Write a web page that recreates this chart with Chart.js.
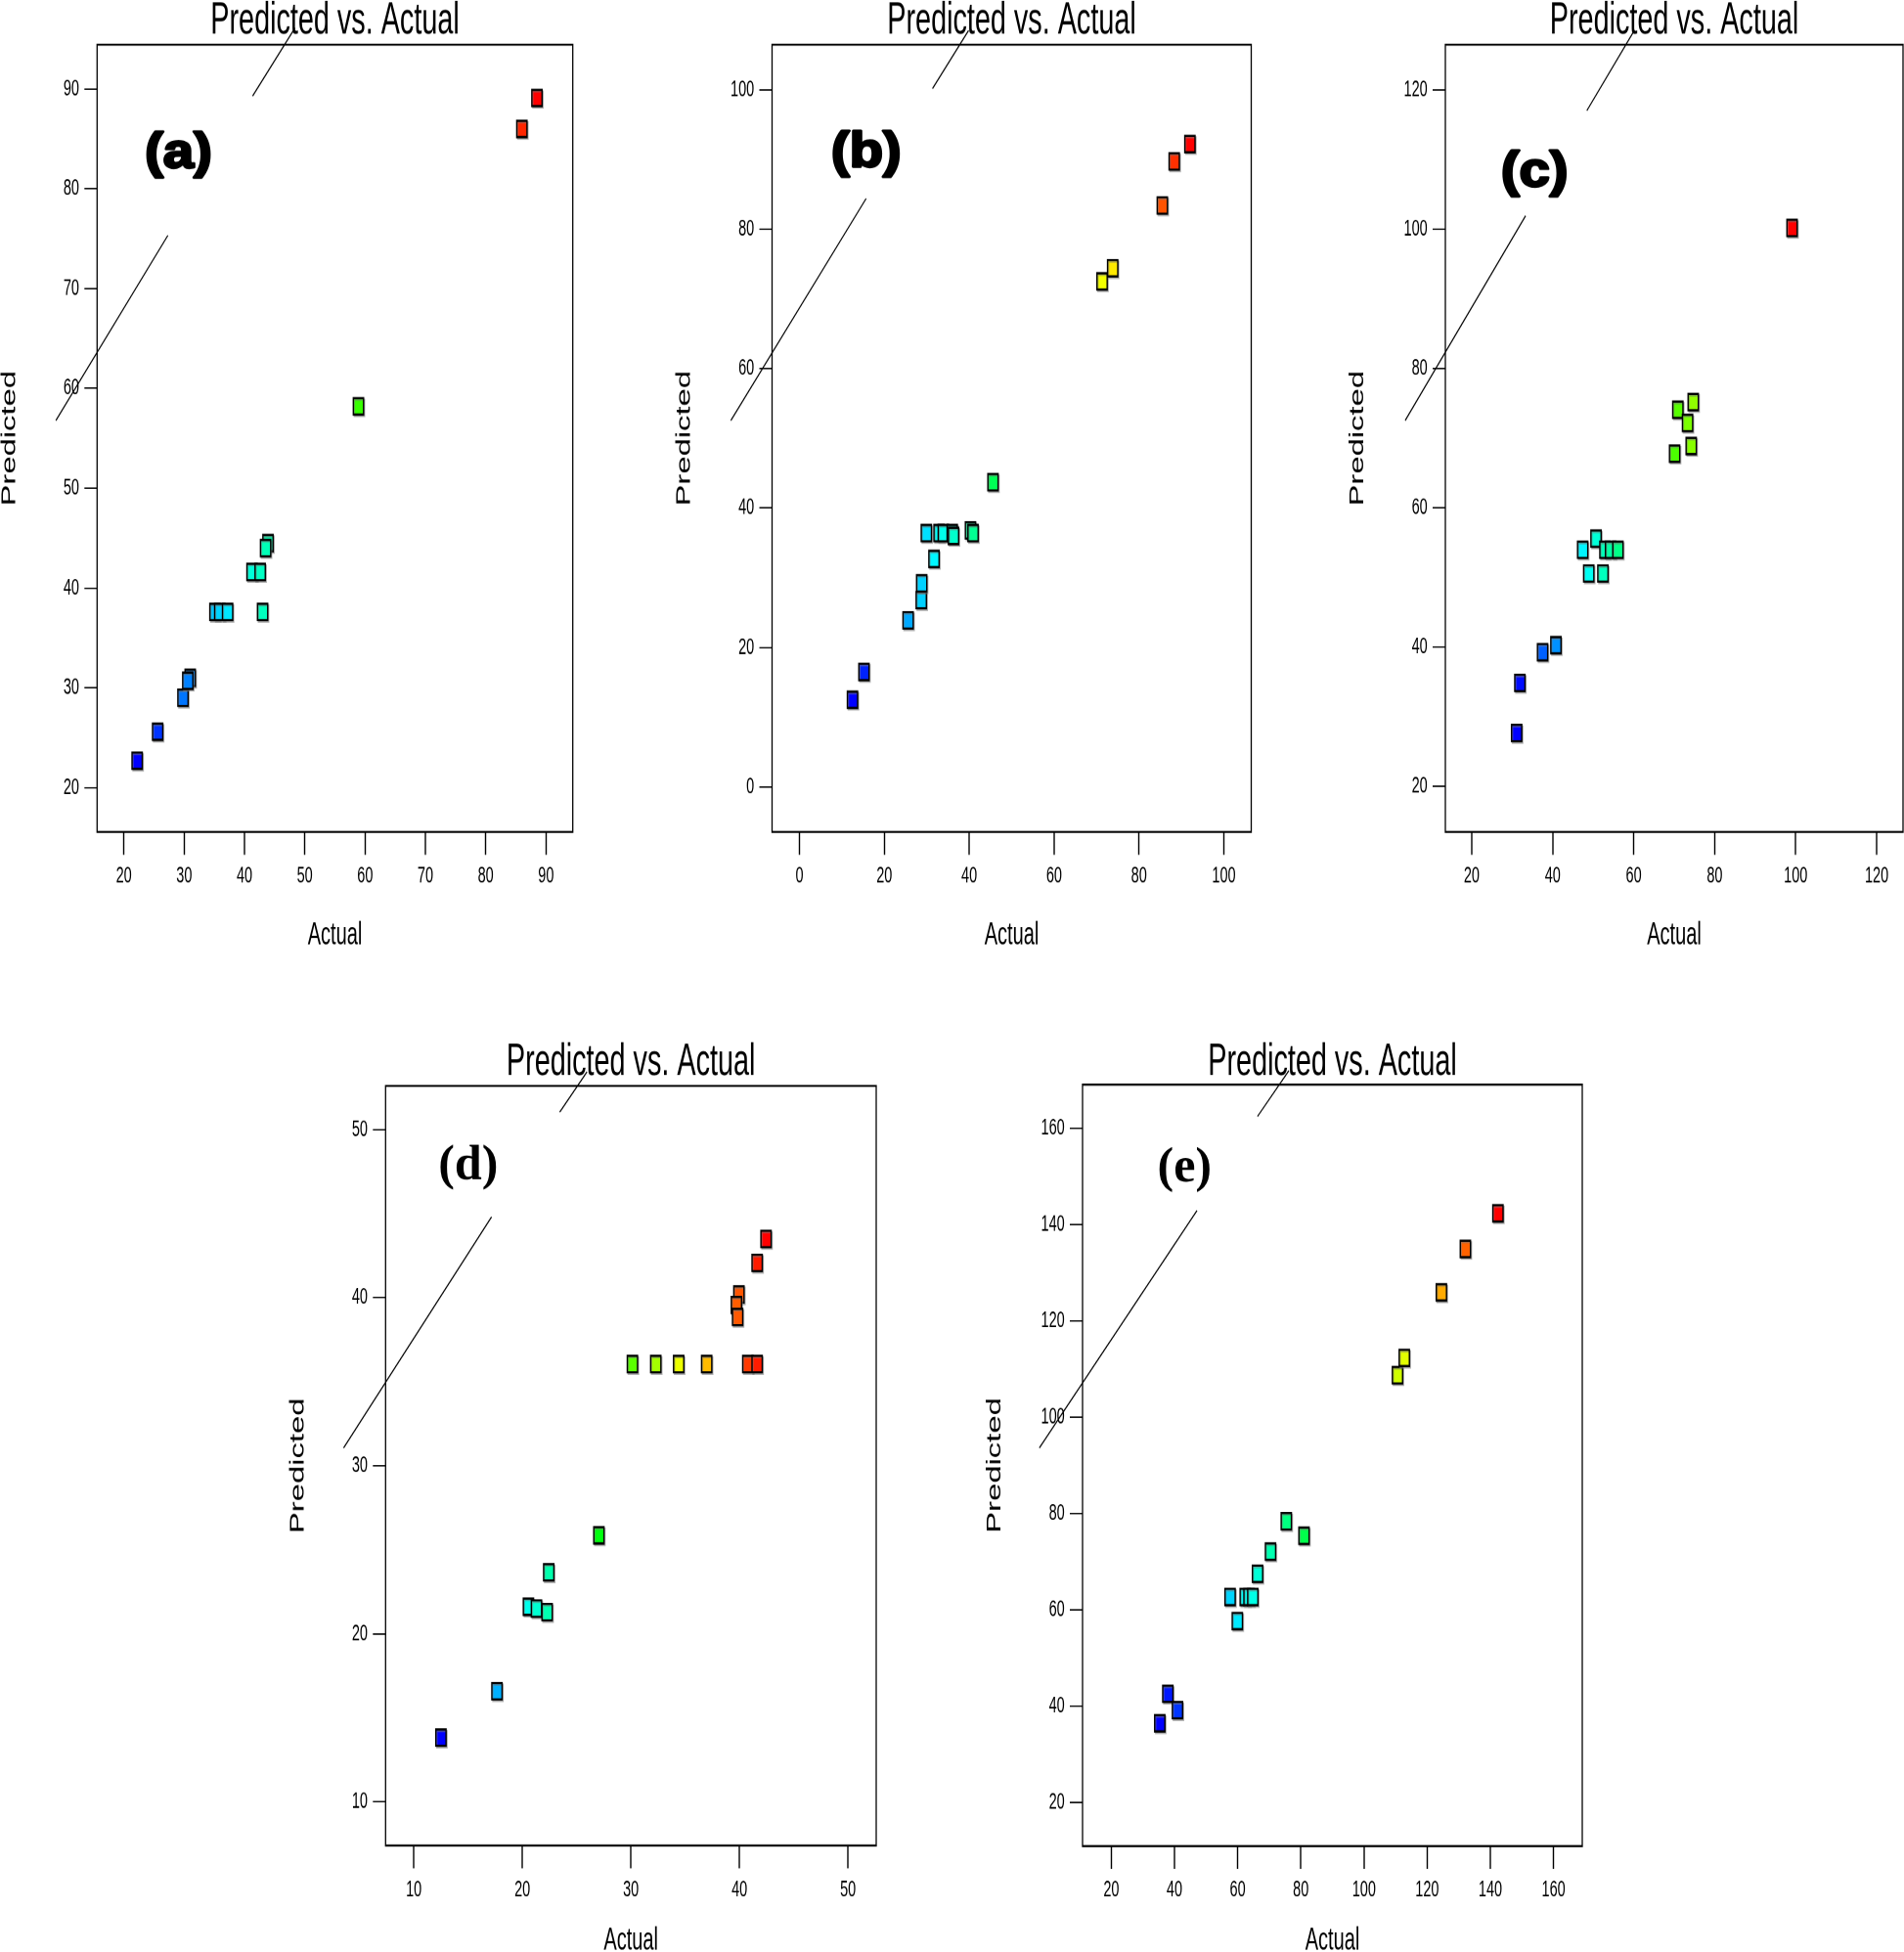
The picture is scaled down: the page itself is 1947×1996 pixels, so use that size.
<!DOCTYPE html>
<html><head><meta charset="utf-8">
<script src="https://cdn.jsdelivr.net/npm/chart.js@4.4.1/dist/chart.umd.min.js"></script>
<style>
html,body{margin:0;padding:0;background:#fff;}
body{width:1947px;height:1996px;position:relative;overflow:hidden;}
.panel{position:absolute;transform-origin:0 0;}
.panel canvas{display:block;}
</style></head><body>
<script>
// ---------------- data ----------------
const titleText = "Predicted vs. Actual";
const xTitleText = "Actual";
const yTitleText = "Predicted";

// (a)
const ticksA = [20, 30, 40, 50, 60, 70, 80, 90];
const actualA = [22.2, 25.6, 29.8, 31.0, 30.6, 35.1, 35.9, 37.2, 41.25, 42.6, 43.0, 43.9, 43.5, 58.9, 86.0, 88.5];
const predA   = [22.7, 25.6, 29.0, 31.0, 30.7, 37.6, 37.6, 37.6, 41.6, 41.6, 37.6, 44.5, 44.0, 58.2, 86.0, 89.1];
const lineA1x = [8.72, 27.30], lineA1y = [56.78, 75.33];
const lineA2x = [41.35, 48.39], lineA2y = [89.29, 96.14];

// (b)
const ticksB = [0, 20, 40, 60, 80, 100];
const actualB = [12.5, 15.2, 25.6, 28.7, 28.8, 31.7, 29.9, 32.9, 33.9, 36.0, 36.3, 40.3, 40.9, 45.6, 71.3, 73.8, 85.5, 88.3, 92.0];
const predB   = [12.5, 16.5, 23.9, 26.8, 29.2, 32.7, 36.4, 36.4, 36.4, 36.4, 36.0, 36.8, 36.4, 43.7, 72.5, 74.4, 83.4, 89.7, 92.2];
const lineB1x = [-16.16, 15.70], lineB1y = [52.55, 84.37];
const lineB2x = [31.35, 39.85], lineB2y = [100.15, 108.48];

// (c)
const ticksC = [20, 40, 60, 80, 100, 120];
const actualC = [31.1, 31.9, 37.5, 40.8, 47.4, 48.9, 50.7, 52.4, 52.9, 54.3, 56.1, 70.1, 70.9, 73.3, 74.2, 74.7, 99.1];
const predC   = [27.7, 34.9, 39.3, 40.3, 54.0, 50.6, 55.6, 50.6, 54.0, 54.0, 54.0, 67.8, 74.1, 72.2, 68.9, 75.2, 100.2];
const lineC1x = [3.58, 33.32], lineC1y = [72.56, 101.95];
const lineC2x = [48.44, 60.15], lineC2y = [117.04, 128.53];

// (d)
const ticksD = [10, 20, 30, 40, 50];
const actualD = [12.5, 17.66, 20.56, 21.30, 22.28, 22.43, 27.05, 30.14, 32.29, 34.40, 36.98, 40.77, 41.63, 39.95, 39.72, 39.83, 41.63, 42.45];
const predD   = [13.82, 16.58, 21.61, 21.50, 21.29, 23.66, 25.86, 36.05, 36.05, 36.05, 36.05, 36.05, 36.05, 40.19, 39.56, 38.85, 42.07, 43.49];
const lineD1x = [3.53, 17.16], lineD1y = [31.06, 44.80];
const lineD2x = [23.45, 25.95], lineD2y = [51.05, 53.43];

// (e)
const ticksE = [20, 40, 60, 80, 100, 120, 140, 160];
const actualE = [35.35, 37.9, 40.95, 57.6, 59.9, 62.4, 63.6, 64.8, 66.3, 70.4, 75.4, 81.0, 110.6, 112.75, 124.5, 132.1, 142.4];
const predE   = [36.5, 42.6, 39.2, 62.7, 57.7, 62.7, 62.7, 62.7, 67.5, 72.1, 78.4, 75.4, 108.7, 112.3, 125.9, 134.9, 142.3];
const lineE1x = [-2.78, 47.14], lineE1y = [93.6, 142.9];
const lineE2x = [66.29, 76.2], lineE2y = [162.4, 171.9];

// ---------------- layout / style (page pixels) ----------------
const S = 1.6; // vertical stretch of the original figure
const panels = [
  {label:'(a)', serif:false, actual:actualA, pred:predA, ticks:ticksA, l1x:lineA1x, l1y:lineA1y, l2x:lineA2x, l2y:lineA2y,
   xr:[15.56, 94.44], yr:[15.56, 94.44], L:99.3, R:585.7, T:45.7, B:850.7, row:0, lx:182.5, lb:171.5},
  {label:'(b)', serif:false, actual:actualB, pred:predB, ticks:ticksB, l1x:lineB1x, l1y:lineB1y, l2x:lineB2x, l2y:lineB2y,
   xr:[-6.45, 106.45], yr:[-6.45, 106.45], L:789.5, R:1279.5, T:45.7, B:850.7, row:0, lx:885.8, lb:170.5},
  {label:'(c)', serif:false, actual:actualC, pred:predC, ticks:ticksC, l1x:lineC1x, l1y:lineC1y, l2x:lineC2x, l2y:lineC2y,
   xr:[13.5, 126.5], yr:[13.5, 126.5], L:1478, R:1946, T:45.7, B:850.7, row:0, lx:1569.2, lb:190.1},
  {label:'(d)', serif:true, actual:actualD, pred:predD, ticks:ticksD, l1x:lineD1x, l1y:lineD1y, l2x:lineD2x, l2y:lineD2y,
   xr:[7.4, 52.6], yr:[7.4, 52.6], L:394.3, R:896, T:1110.3, B:1886.4, row:1, lx:478.8, lb:1205.3},
  {label:'(e)', serif:true, actual:actualE, pred:predE, ticks:ticksE, l1x:lineE1x, l1y:lineE1y, l2x:lineE2x, l2y:lineE2y,
   xr:[10.9, 169.1], yr:[11.0, 169.0], L:1107, R:1618, T:1109, B:1887, row:1, lx:1211.3, lb:1208.3}
];
const rows = [
  {cy:0, ch:1000, titleBase:34.3, xTitleBase:965.7},
  {cy:1040, ch:956, titleBase:1099.3, xTitleBase:1993}
];

Chart.defaults.font.family = "'Liberation Sans', Arial, sans-serif";
Chart.defaults.color = '#000';

function ramp(v, lo, hi) {
  const t = Math.max(0, Math.min(1, (v - lo) / (hi - lo)));
  return 'hsl(' + (240 * (1 - t)).toFixed(1) + ',100%,50%)';
}
function pts(xs, ys) { return xs.map((x, i) => ({x: x, y: ys[i]})); }

const decor = {
  id: 'decor',
  beforeDatasetsDraw(chart, args, o) {
    const {ctx, chartArea: a} = chart;
    ctx.save();
    ctx.strokeStyle = '#000';
    ctx.lineWidth = 1.3;
    ctx.strokeRect(a.left, a.top, a.right - a.left, a.bottom - a.top);
    ctx.restore();
  },
  beforeDatasetDraw(chart, args) {
    if (args.index === 0) {
      const ctx = chart.ctx;
      ctx.save();
      ctx.shadowColor = 'rgba(120,120,120,0.55)';
      ctx.shadowOffsetX = 2;
      ctx.shadowOffsetY = 2;
      ctx.shadowBlur = 0;
    }
  },
  afterDatasetDraw(chart, args) {
    if (args.index === 0) chart.ctx.restore();
  },
  afterDraw(chart, args, o) {
    const {ctx, chartArea: a} = chart;
    const cxm = (a.left + a.right) / 2;
    ctx.save();
    ctx.fillStyle = '#000';
    ctx.textAlign = 'center';
    ctx.textBaseline = 'alphabetic';
    ctx.font = "28.8px 'Liberation Sans', Arial, sans-serif";
    ctx.fillText(titleText, cxm, o.titleY);
    ctx.font = "20px 'Liberation Sans', Arial, sans-serif";
    ctx.fillText(xTitleText, cxm, o.xTitleY);
    ctx.save();
    ctx.translate(a.left - 84, (a.top + a.bottom) / 2);
    ctx.rotate(-Math.PI / 2);
    ctx.font = "20.5px 'Liberation Sans', Arial, sans-serif";
    ctx.fillText(yTitleText, 0, 0);
    ctx.restore();
    // panel letter (not stretched in the original)
    ctx.save();
    ctx.translate(o.labelX, o.labelY);
    if (o.serif) {
      ctx.scale(1, 1 / S);
      ctx.font = "bold 50px 'Liberation Serif', 'Times New Roman', serif";
      ctx.fillText(o.label, 0, 0);
    } else {
      ctx.scale(1.12, 1 / S);
      ctx.font = "bold 50px 'Liberation Sans', Arial, sans-serif";
      ctx.lineWidth = 2.6;
      ctx.strokeStyle = '#000';
      ctx.lineJoin = 'round';
      ctx.fillText(o.label, 0, 0);
      ctx.strokeText(o.label, 0, 0);
    }
    ctx.restore();
    ctx.restore();
  }
};

panels.forEach((p) => {
  const r = rows[p.row];
  const cx = Math.max(0, Math.floor(p.L - 110));
  const cw = Math.ceil(p.R + 40) - cx;
  const div = document.createElement('div');
  div.className = 'panel';
  div.style.left = cx + 'px';
  div.style.top = r.cy + 'px';
  div.style.width = cw + 'px';
  div.style.height = (r.ch / S) + 'px';
  div.style.transform = 'scaleY(' + S + ')';
  const cv = document.createElement('canvas');
  div.appendChild(cv);
  document.body.appendChild(div);

  const lo = Math.min(...p.actual), hi = Math.max(...p.actual);
  const yAxisW = p.L - cx;
  const xAxisH = (r.cy + r.ch - p.B) / S;
  const lineDs = (xs, ys) => ({
    data: pts(xs, ys), showLine: true, borderColor: '#000', borderWidth: 1,
    pointRadius: 0, clip: false, order: 2
  });

  new Chart(cv, {
    type: 'scatter',
    data: {
      datasets: [
        {
          data: pts(p.actual, p.pred),
          pointStyle: 'rect',
          pointRadius: 7.4,
          pointHoverRadius: 7.4,
          pointBackgroundColor: (c) => ramp(p.actual[c.dataIndex], lo, hi),
          pointBorderColor: '#000',
          pointBorderWidth: 1.4,
          showLine: false,
          clip: false,
          order: 0
        },
        lineDs(p.l1x, p.l1y),
        lineDs(p.l2x, p.l2y)
      ]
    },
    options: {
      responsive: true,
      maintainAspectRatio: false,
      animation: false,
      devicePixelRatio: 2,
      events: [],
      layout: {
        padding: {
          left: 0,
          right: cx + cw - p.R,
          top: (p.T - r.cy) / S,
          bottom: 0
        }
      },
      plugins: {
        legend: {display: false},
        tooltip: {enabled: false},
        decor: {
          titleY: (r.titleBase - r.cy) / S,
          xTitleY: (r.xTitleBase - r.cy) / S,
          labelX: p.lx - cx,
          labelY: (p.lb - r.cy) / S,
          label: p.label,
          serif: p.serif
        }
      },
      scales: {
        x: {
          type: 'linear', position: 'bottom', min: p.xr[0], max: p.xr[1],
          afterFit: (s) => { s.height = xAxisH; },
          afterBuildTicks: (s) => { s.ticks = p.ticks.map(v => ({value: v})); },
          grid: {display: true, drawOnChartArea: false, drawTicks: true, tickLength: 14.6, tickColor: '#000', tickWidth: 1.4},
          border: {display: false},
          ticks: {font: {size: 14.5}, color: '#000', padding: 5, autoSkip: false, maxRotation: 0, minRotation: 0}
        },
        y: {
          type: 'linear', position: 'left', min: p.yr[0], max: p.yr[1],
          afterFit: (s) => { s.width = yAxisW; },
          afterBuildTicks: (s) => { s.ticks = p.ticks.map(v => ({value: v})); },
          grid: {display: true, drawOnChartArea: false, drawTicks: true, tickLength: 13, tickColor: '#000', tickWidth: 0.9},
          border: {display: false},
          ticks: {font: {size: 14.5}, color: '#000', padding: 5.3, autoSkip: false}
        }
      }
    },
    plugins: [decor]
  });
});
</script>
</body></html>
